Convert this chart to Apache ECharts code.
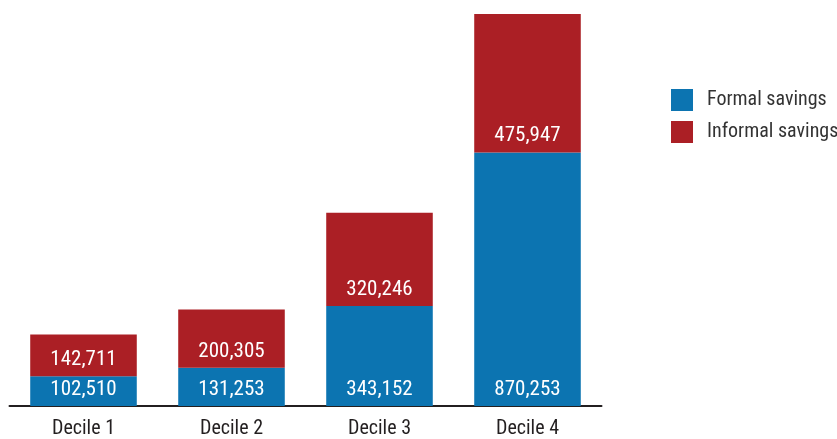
<!DOCTYPE html>
<html>
<head>
<meta charset="utf-8">
<script src="https://cdn.jsdelivr.net/npm/echarts@6/dist/echarts.min.js"></script>
<style>
  html, body { margin: 0; padding: 0; background: #ffffff; }
  #chart { width: 837px; height: 439px; }
</style>
</head>
<body>
<div id="chart"></div>
<script>
// Savings by income decile
const categories = ['Decile 1', 'Decile 2', 'Decile 3', 'Decile 4'];
const formalSavings = [102510, 131253, 343152, 870253];
const informalSavings = [142711, 200305, 320246, 475947];
const seriesNames = ['Formal savings', 'Informal savings'];

const FONT = '"Roboto Condensed", "Liberation Sans Narrow", "Roboto", sans-serif';
const BLUE = '#0c74b1';
const RED = '#ab1f25';

const totals = categories.map((_, i) => formalSavings[i] + informalSavings[i]);
const yMax = Math.max(...totals);

const fmt = p => p.value.toLocaleString('en-US');

const labelStyle = {
  show: true,
  position: 'insideBottom',
  distance: 6,
  color: '#ffffff',
  fontFamily: FONT,
  fontSize: 21,
  formatter: fmt
};

const chart = echarts.init(document.getElementById('chart'), null, { renderer: 'canvas' });
chart.setOption({
  animation: false,
  backgroundColor: '#ffffff',
  grid: { left: 9.5, right: 235.5, top: 14, bottom: 32, containLabel: false },
  legend: {
    orient: 'vertical',
    left: 666,
    top: 84,
    itemWidth: 22,
    itemHeight: 22,
    itemGap: 10,
    icon: 'rect',
    textStyle: { fontFamily: FONT, fontSize: 20, color: '#333333', padding: [0, 0, 0, 9] },
    data: seriesNames
  },
  xAxis: {
    type: 'category',
    data: categories,
    axisLine: { show: true, lineStyle: { color: '#231f20', width: 2 } },
    axisTick: { show: false },
    axisLabel: { fontFamily: FONT, fontSize: 20, color: '#231f20', margin: 13 }
  },
  yAxis: {
    type: 'value',
    min: 0,
    max: yMax,
    show: false,
    splitLine: { show: false }
  },
  series: [
    {
      name: seriesNames[0],
      type: 'bar',
      stack: 'savings',
      data: formalSavings,
      barCategoryGap: '28%',
      itemStyle: { color: BLUE },
      label: labelStyle
    },
    {
      name: seriesNames[1],
      type: 'bar',
      stack: 'savings',
      data: informalSavings,
      barCategoryGap: '28%',
      itemStyle: { color: RED },
      label: labelStyle
    }
  ]
});
</script>
</body>
</html>
